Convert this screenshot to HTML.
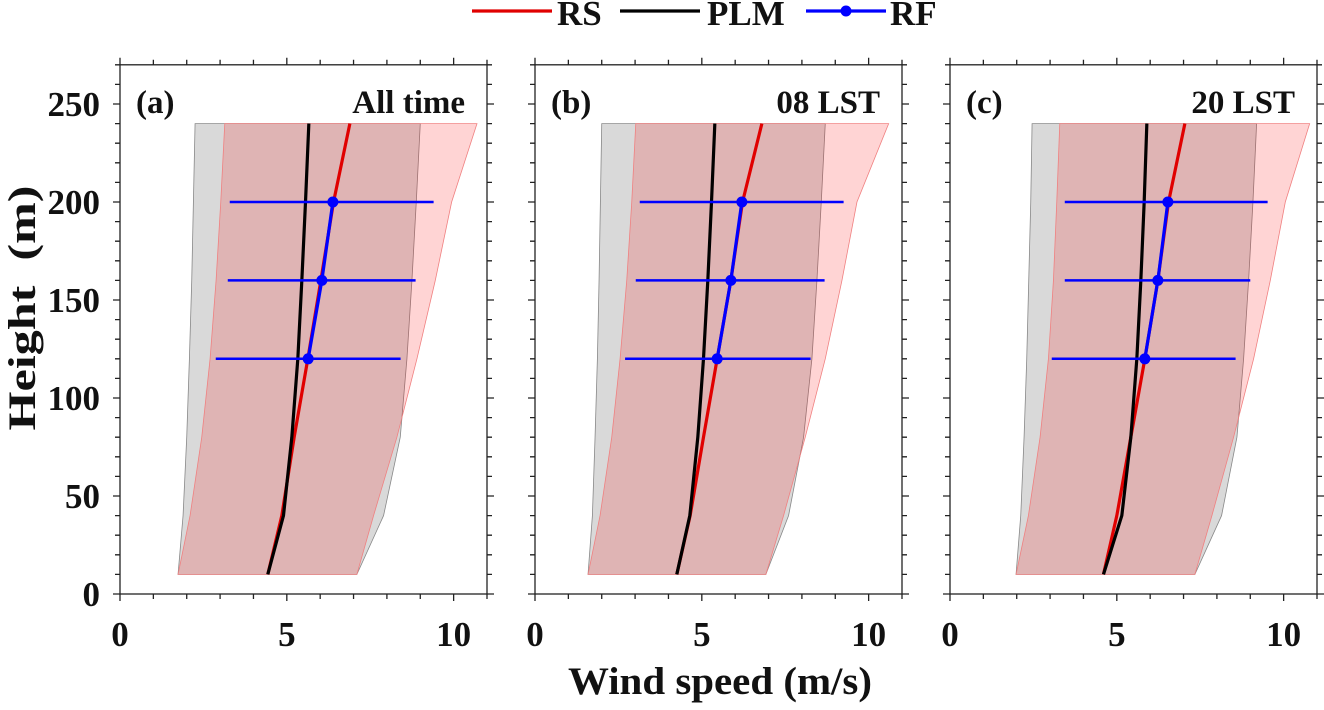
<!DOCTYPE html>
<html><head><meta charset="utf-8">
<style>
html,body{margin:0;padding:0;background:#fff;}
svg text{font-family:"Liberation Serif",serif;font-weight:bold;fill:#111;}
</style></head>
<body>
<svg id="chart" width="1324" height="705" xmlns="http://www.w3.org/2000/svg"></svg>
<script>
const heights = [10, 40, 80, 120, 160, 200, 240];
const rfHeights = [120, 160, 200];
const xTicks = [0, 5, 10];
const yTicks = [0, 50, 100, 150, 200, 250];
const panelLabels = ["(a)", "(b)", "(c)"];
const panelTitles = ["All time", "08 LST", "20 LST"];
// panel a
const grayLowA = [1.74, 1.89, 2.0, 2.08, 2.15, 2.2, 2.25];
const grayHighA = [7.1, 7.9, 8.4, 8.6, 8.75, 8.88, 9.0];
const pinkLowA = [1.74, 2.1, 2.45, 2.7, 2.88, 3.02, 3.14];
const pinkHighA = [7.1, 7.6, 8.3, 8.9, 9.45, 9.94, 10.7];
const rsA = [4.43, 4.85, 5.22, 5.63, 6.02, 6.4, 6.89];
const plmA = [4.43, 4.9, 5.15, 5.33, 5.45, 5.56, 5.66];
const rfA = [5.64, 6.05, 6.38];
const rfLoA = [2.87, 3.23, 3.29];
const rfHiA = [8.41, 8.86, 9.4];
// panel b
const grayLowB = [1.59, 1.72, 1.8, 1.87, 1.92, 1.96, 2.0];
const grayHighB = [6.92, 7.6, 8.05, 8.3, 8.45, 8.58, 8.7];
const pinkLowB = [1.59, 1.95, 2.3, 2.55, 2.75, 2.9, 3.02];
const pinkHighB = [6.92, 7.45, 8.1, 8.7, 9.2, 9.65, 10.6];
const rsB = [4.25, 4.65, 5.05, 5.46, 5.87, 6.22, 6.8];
const plmB = [4.25, 4.64, 4.88, 5.05, 5.18, 5.29, 5.39];
const rfB = [5.46, 5.87, 6.2];
const rfLoB = [2.7, 3.02, 3.14];
const rfHiB = [8.26, 8.68, 9.25];
// panel c
const grayLowC = [1.98, 2.12, 2.22, 2.3, 2.36, 2.42, 2.46];
const grayHighC = [7.34, 8.14, 8.6, 8.8, 8.95, 9.08, 9.19];
const pinkLowC = [1.98, 2.35, 2.7, 2.95, 3.1, 3.2, 3.29];
const pinkHighC = [7.34, 7.85, 8.5, 9.1, 9.6, 10.05, 10.78];
const rsC = [4.6, 5.0, 5.42, 5.84, 6.23, 6.55, 7.04];
const plmC = [4.6, 5.15, 5.42, 5.6, 5.72, 5.82, 5.9];
const rfC = [5.84, 6.23, 6.53];
const rfLoC = [3.05, 3.44, 3.44];
const rfHiC = [8.56, 9.0, 9.52];

const panels = [
 {x0:120, gl:grayLowA, gh:grayHighA, pl:pinkLowA, ph:pinkHighA, rs:rsA, plm:plmA, rf:rfA, lo:rfLoA, hi:rfHiA},
 {x0:535, gl:grayLowB, gh:grayHighB, pl:pinkLowB, ph:pinkHighB, rs:rsB, plm:plmB, rf:rfB, lo:rfLoB, hi:rfHiB},
 {x0:950, gl:grayLowC, gh:grayHighC, pl:pinkLowC, ph:pinkHighC, rs:rsC, plm:plmC, rf:rfC, lo:rfLoC, hi:rfHiC}
];
const NS = "http://www.w3.org/2000/svg";
const svg = document.getElementById('chart');
const XMAX = 11, YMAX = 270, W = 367, Y0 = 594, H = 529.2;
function mk(tag, attrs, parent){
  const e = document.createElementNS(NS, tag);
  for (const k in attrs) e.setAttribute(k, attrs[k]);
  (parent||svg).appendChild(e); return e;
}
function yS(h){ return Y0 - h / YMAX * H; }

panels.forEach((p, i) => {
  const xS = v => p.x0 + v / XMAX * W;
  const g = mk('g', {});
  
  
  function band(lo, hi, fill, stroke, name){
    let pts = heights.map((h,k)=>xS(lo[k])+','+yS(h));
    for (let k=heights.length-1;k>=0;k--) pts.push(xS(hi[k])+','+yS(heights[k]));
    const e = mk('polygon', {points:pts.join(' '), fill:fill, stroke:stroke, 'stroke-width':0.8}, g);
    
    
  }
  band(p.gl, p.gh, '#d9d9d9', '#888', 'plm-range-band');
  band(p.pl, p.ph, 'rgba(255,0,0,0.17)', '#f08080', 'rs-range-band');
  function line(vals, hs, color, name){
    const e = mk('polyline', {points:hs.map((h,k)=>xS(vals[k])+','+yS(h)).join(' '), fill:'none', stroke:color, 'stroke-width':3.2}, g);
    
    
  }
  line(p.rs, heights, '#e00000', 'rs-line');
  line(p.plm, heights, '#000', 'plm-line');
  rfHeights.forEach((h,k)=>{
    const e = mk('line', {x1:xS(p.lo[k]), x2:xS(p.hi[k]), y1:yS(h), y2:yS(h), stroke:'#0000ff', 'stroke-width':2.5}, g);
    
    
  });
  line(p.rf, rfHeights, '#0000ff', 'rf-line');
  rfHeights.forEach((h,k)=>{
    const e = mk('circle', {cx:xS(p.rf[k]), cy:yS(h), r:5.5, fill:'#0000ff'}, g);
    
    
  });
  const fr = mk('rect', {x:p.x0, y:yS(YMAX), width:W, height:H, fill:'none', stroke:'#222', 'stroke-width':1.3}, g);
  
  
  let d = '';
  for (let v=0; v<=XMAX; v++){
    const L = v%5===0 ? 7 : 5, x = xS(v);
    d += `M${x},${Y0}v${L}M${x},${yS(YMAX)}v${-L}`;
  }
  for (let h=0; h<=YMAX; h+=10){
    const L = h%50===0 ? 7 : 5, y = yS(h);
    d += `M${p.x0},${y}h${-L}M${p.x0+W},${y}h${L}`;
  }
  const tk = mk('path', {d:d, stroke:'#222', 'stroke-width':1.3, fill:'none'}, g);
  
  
  xTicks.forEach(v=>{
    const t = mk('text', {x:xS(v), y:646, 'text-anchor':'middle', 'font-size':35}, g);
    t.textContent = v;
    
    
  });
  if (i===0) yTicks.forEach(v=>{
    const t = mk('text', {x:100, y:yS(v)+12, 'text-anchor':'end', 'font-size':35}, g);
    t.textContent = v;
    
    
  });
  const pl = mk('text', {x:p.x0+16, y:113, 'font-size':33}, g);
  pl.textContent = panelLabels[i];
  
  
  const pt = mk('text', {x:p.x0+345, y:113, 'text-anchor':'end', 'font-size':33}, g);
  pt.textContent = panelTitles[i];
  
  
});

const yt = mk('text', {x:0, y:0, 'text-anchor':'middle', 'font-size':39, textLength:245, lengthAdjust:'spacingAndGlyphs', transform:'translate(35,308) rotate(-90)'});
yt.textContent = 'Height\u00a0 (m)';


const xt = mk('text', {x:720, y:694, 'text-anchor':'middle', 'font-size':39, textLength:304, lengthAdjust:'spacingAndGlyphs'});
xt.textContent = 'Wind speed (m/s)';



const lg = mk('g', {});


const entries = [['RS','#e00000',472,557],['PLM','#000',620,707],['RF','#0000ff',806,890]];
entries.forEach((en,k)=>{
  const ge = mk('g', {}, lg);
  
  
  mk('line', {x1:en[2], x2:en[2]+80, y1:11, y2:11, stroke:en[1], 'stroke-width':3.2}, ge);
  if (k===2) mk('circle', {cx:en[2]+40, cy:11, r:5.5, fill:en[1]}, ge);
  const t = mk('text', {x:en[3], y:25, 'font-size':35}, ge);
  t.textContent = en[0];
});
</script>
</body></html>
